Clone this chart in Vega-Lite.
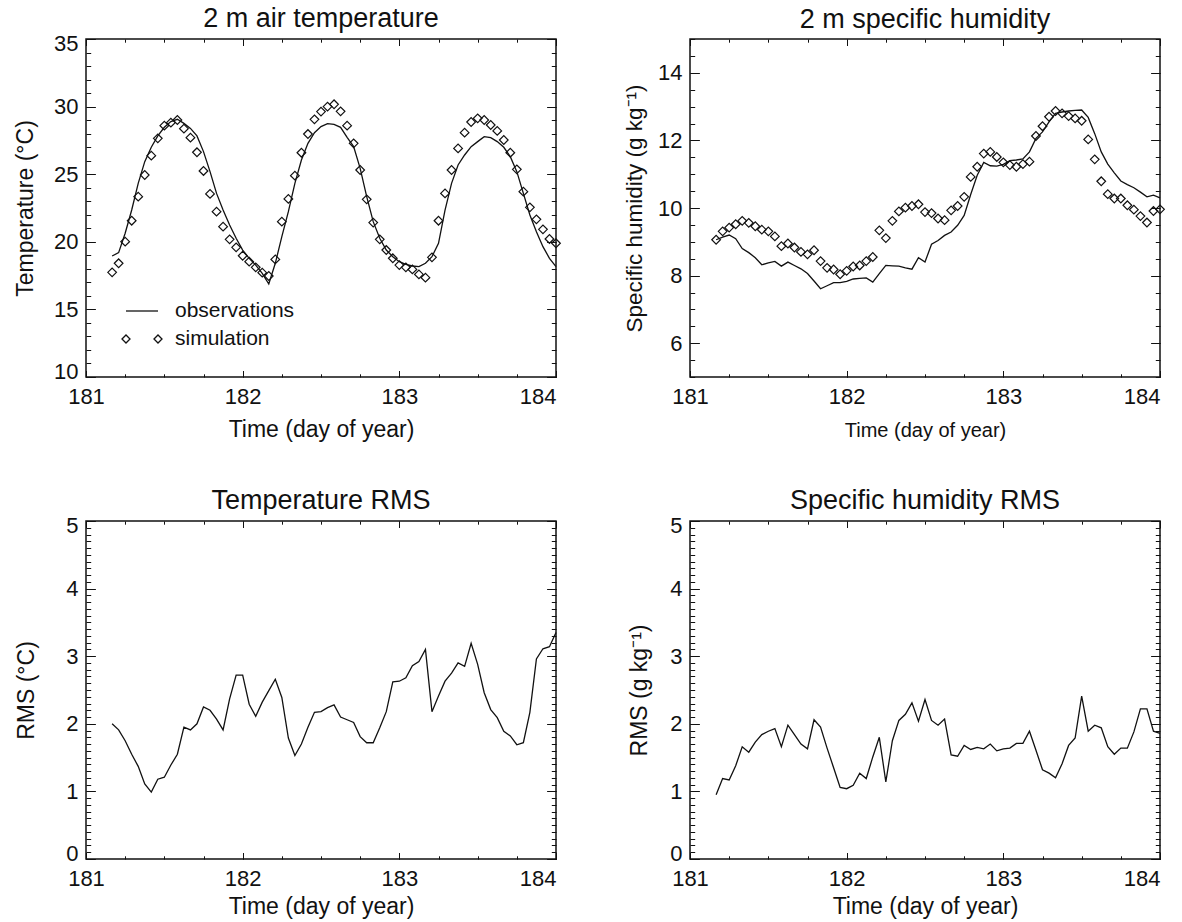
{
  "$schema": "https://vega.github.io/schema/vega-lite/v6.json",
  "background": "white",
  "padding": {"left": 13, "top": 4, "right": 5, "bottom": 5},
  "datasets": {
    "main": [
      {"day":181.1667,"tObs":18.95,"tSim":17.74,"qObs":9.06,"qSim":9.06,"tRms":2.00,"qRms":0.95},
      {"day":181.2083,"tObs":19.20,"tSim":18.41,"qObs":9.14,"qSim":9.31,"tRms":1.91,"qRms":1.19},
      {"day":181.25,"tObs":20.63,"tSim":20.01,"qObs":9.20,"qSim":9.42,"tRms":1.75,"qRms":1.17},
      {"day":181.2917,"tObs":22.35,"tSim":21.56,"qObs":9.09,"qSim":9.52,"tRms":1.55,"qRms":1.38},
      {"day":181.3333,"tObs":24.32,"tSim":23.34,"qObs":8.80,"qSim":9.62,"tRms":1.37,"qRms":1.66},
      {"day":181.375,"tObs":25.93,"tSim":24.94,"qObs":8.68,"qSim":9.56,"tRms":1.11,"qRms":1.58},
      {"day":181.4167,"tObs":26.99,"tSim":26.37,"qObs":8.53,"qSim":9.46,"tRms":0.99,"qRms":1.73},
      {"day":181.4583,"tObs":27.83,"tSim":27.65,"qObs":8.32,"qSim":9.36,"tRms":1.18,"qRms":1.84},
      {"day":181.5,"tObs":28.47,"tSim":28.59,"qObs":8.38,"qSim":9.31,"tRms":1.21,"qRms":1.89},
      {"day":181.5417,"tObs":28.89,"tSim":28.81,"qObs":8.42,"qSim":9.16,"tRms":1.39,"qRms":1.93},
      {"day":181.5833,"tObs":29.06,"tSim":29.01,"qObs":8.28,"qSim":8.87,"tRms":1.55,"qRms":1.66},
      {"day":181.625,"tObs":28.76,"tSim":28.37,"qObs":8.40,"qSim":8.95,"tRms":1.95,"qRms":1.98},
      {"day":181.6667,"tObs":28.39,"tSim":27.70,"qObs":8.30,"qSim":8.83,"tRms":1.91,"qRms":1.84},
      {"day":181.7083,"tObs":27.83,"tSim":26.62,"qObs":8.20,"qSim":8.70,"tRms":2.00,"qRms":1.70},
      {"day":181.75,"tObs":26.67,"tSim":25.24,"qObs":8.06,"qSim":8.63,"tRms":2.25,"qRms":1.63},
      {"day":181.7917,"tObs":25.19,"tSim":23.54,"qObs":7.84,"qSim":8.75,"tRms":2.20,"qRms":2.06},
      {"day":181.8333,"tObs":23.58,"tSim":22.23,"qObs":7.61,"qSim":8.43,"tRms":2.07,"qRms":1.95},
      {"day":181.875,"tObs":22.35,"tSim":21.12,"qObs":7.70,"qSim":8.23,"tRms":1.91,"qRms":1.64},
      {"day":181.9167,"tObs":21.24,"tSim":20.18,"qObs":7.79,"qSim":8.18,"tRms":2.37,"qRms":1.35},
      {"day":181.9583,"tObs":20.26,"tSim":19.59,"qObs":7.79,"qSim":8.04,"tRms":2.72,"qRms":1.06},
      {"day":182.0,"tObs":19.39,"tSim":18.97,"qObs":7.83,"qSim":8.14,"tRms":2.72,"qRms":1.04},
      {"day":182.0417,"tObs":18.78,"tSim":18.53,"qObs":7.90,"qSim":8.27,"tRms":2.29,"qRms":1.09},
      {"day":182.0833,"tObs":18.28,"tSim":18.11,"qObs":7.92,"qSim":8.30,"tRms":2.11,"qRms":1.27},
      {"day":182.125,"tObs":17.67,"tSim":17.72,"qObs":7.93,"qSim":8.43,"tRms":2.32,"qRms":1.19},
      {"day":182.1667,"tObs":16.88,"tSim":17.47,"qObs":7.81,"qSim":8.55,"tRms":2.49,"qRms":1.51},
      {"day":182.2083,"tObs":18.41,"tSim":18.70,"qObs":8.06,"qSim":9.34,"tRms":2.66,"qRms":1.80},
      {"day":182.25,"tObs":20.38,"tSim":21.49,"qObs":8.30,"qSim":9.11,"tRms":2.39,"qRms":1.14},
      {"day":182.2917,"tObs":22.23,"tSim":23.17,"qObs":8.29,"qSim":9.62,"tRms":1.79,"qRms":1.75},
      {"day":182.3333,"tObs":24.32,"tSim":24.89,"qObs":8.28,"qSim":9.90,"tRms":1.53,"qRms":2.05},
      {"day":182.375,"tObs":26.05,"tSim":26.59,"qObs":8.23,"qSim":10.01,"tRms":1.70,"qRms":2.14},
      {"day":182.4167,"tObs":27.28,"tSim":27.97,"qObs":8.19,"qSim":10.06,"tRms":1.95,"qRms":2.31},
      {"day":182.4583,"tObs":28.07,"tSim":29.06,"qObs":8.53,"qSim":10.11,"tRms":2.17,"qRms":2.04},
      {"day":182.5,"tObs":28.52,"tSim":29.63,"qObs":8.40,"qSim":9.88,"tRms":2.18,"qRms":2.36},
      {"day":182.5417,"tObs":28.74,"tSim":30.00,"qObs":8.93,"qSim":9.85,"tRms":2.24,"qRms":2.05},
      {"day":182.5833,"tObs":28.69,"tSim":30.17,"qObs":9.04,"qSim":9.69,"tRms":2.28,"qRms":1.98},
      {"day":182.625,"tObs":28.47,"tSim":29.65,"qObs":9.19,"qSim":9.64,"tRms":2.10,"qRms":2.07},
      {"day":182.6667,"tObs":27.73,"tSim":28.59,"qObs":9.29,"qSim":9.93,"tRms":2.06,"qRms":1.54},
      {"day":182.7083,"tObs":27.04,"tSim":27.28,"qObs":9.49,"qSim":10.06,"tRms":2.02,"qRms":1.52},
      {"day":182.75,"tObs":25.43,"tSim":25.31,"qObs":9.78,"qSim":10.33,"tRms":1.81,"qRms":1.68},
      {"day":182.7917,"tObs":23.34,"tSim":23.14,"qObs":10.40,"qSim":10.92,"tRms":1.72,"qRms":1.62},
      {"day":182.8333,"tObs":21.49,"tSim":21.42,"qObs":10.97,"qSim":11.22,"tRms":1.72,"qRms":1.65},
      {"day":182.875,"tObs":20.26,"tSim":20.18,"qObs":11.35,"qSim":11.61,"tRms":1.94,"qRms":1.63},
      {"day":182.9167,"tObs":19.39,"tSim":19.39,"qObs":11.25,"qSim":11.66,"tRms":2.18,"qRms":1.70},
      {"day":182.9583,"tObs":18.90,"tSim":18.78,"qObs":11.24,"qSim":11.51,"tRms":2.62,"qRms":1.60},
      {"day":183.0,"tObs":18.53,"tSim":18.28,"qObs":11.29,"qSim":11.35,"tRms":2.63,"qRms":1.63},
      {"day":183.0417,"tObs":18.33,"tSim":18.11,"qObs":11.40,"qSim":11.27,"tRms":2.68,"qRms":1.64},
      {"day":183.0833,"tObs":18.21,"tSim":17.96,"qObs":11.42,"qSim":11.22,"tRms":2.86,"qRms":1.71},
      {"day":183.125,"tObs":18.16,"tSim":17.59,"qObs":11.45,"qSim":11.30,"tRms":2.92,"qRms":1.71},
      {"day":183.1667,"tObs":18.41,"tSim":17.35,"qObs":11.66,"qSim":11.37,"tRms":3.10,"qRms":1.89},
      {"day":183.2083,"tObs":18.90,"tSim":18.85,"qObs":12.06,"qSim":12.13,"tRms":2.18,"qRms":1.61},
      {"day":183.25,"tObs":19.89,"tSim":21.56,"qObs":12.25,"qSim":12.42,"tRms":2.41,"qRms":1.32},
      {"day":183.2917,"tObs":22.35,"tSim":23.58,"qObs":12.55,"qSim":12.70,"tRms":2.63,"qRms":1.27},
      {"day":183.3333,"tObs":24.32,"tSim":25.31,"qObs":12.80,"qSim":12.87,"tRms":2.75,"qRms":1.20},
      {"day":183.375,"tObs":25.68,"tSim":26.91,"qObs":12.84,"qSim":12.80,"tRms":2.90,"qRms":1.41},
      {"day":183.4167,"tObs":26.42,"tSim":28.07,"qObs":12.87,"qSim":12.72,"tRms":2.85,"qRms":1.68},
      {"day":183.4583,"tObs":27.04,"tSim":28.86,"qObs":12.89,"qSim":12.65,"tRms":3.19,"qRms":1.79},
      {"day":183.5,"tObs":27.41,"tSim":29.13,"qObs":12.90,"qSim":12.58,"tRms":2.88,"qRms":2.41},
      {"day":183.5417,"tObs":27.78,"tSim":29.01,"qObs":12.68,"qSim":12.03,"tRms":2.46,"qRms":1.89},
      {"day":183.5833,"tObs":27.70,"tSim":28.64,"qObs":12.20,"qSim":11.44,"tRms":2.21,"qRms":1.98},
      {"day":183.625,"tObs":27.41,"tSim":28.20,"qObs":11.66,"qSim":10.79,"tRms":2.09,"qRms":1.94},
      {"day":183.6667,"tObs":26.99,"tSim":27.53,"qObs":11.30,"qSim":10.41,"tRms":1.89,"qRms":1.66},
      {"day":183.7083,"tObs":26.30,"tSim":26.59,"qObs":11.04,"qSim":10.28,"tRms":1.82,"qRms":1.55},
      {"day":183.75,"tObs":25.19,"tSim":25.36,"qObs":10.80,"qSim":10.28,"tRms":1.69,"qRms":1.64},
      {"day":183.7917,"tObs":23.58,"tSim":23.71,"qObs":10.69,"qSim":10.08,"tRms":1.72,"qRms":1.64},
      {"day":183.8333,"tObs":21.98,"tSim":22.55,"qObs":10.60,"qSim":9.95,"tRms":2.17,"qRms":1.88},
      {"day":183.875,"tObs":20.75,"tSim":21.66,"qObs":10.47,"qSim":9.76,"tRms":2.96,"qRms":2.22},
      {"day":183.9167,"tObs":19.64,"tSim":20.92,"qObs":10.33,"qSim":9.57,"tRms":3.11,"qRms":2.22},
      {"day":183.9583,"tObs":18.78,"tSim":20.21,"qObs":10.38,"qSim":9.91,"tRms":3.14,"qRms":1.89},
      {"day":184.0,"tObs":18.16,"tSim":19.89,"qObs":10.30,"qSim":9.96,"tRms":3.35,"qRms":1.86}
    ]
  },
  "data": {"name": "main"},
  "config": {
    "font": "Liberation Sans",
    "view": {"stroke": "#111", "strokeWidth": 1.5},
    "axis": {
      "grid": false, "domain": false, "labelFlush": false,
      "labelFont": "Liberation Sans", "labelFontSize": 22, "labelColor": "#111",
      "titleFont": "Liberation Sans", "titleFontSize": 23, "titleFontWeight": "normal", "titleColor": "#111",
      "tickColor": "#111", "tickWidth": 1
    },
    "title": {"font": "Liberation Sans", "fontSize": 27, "fontWeight": "normal", "color": "#111", "anchor": "middle", "frame": "group", "baseline": "alphabetic", "offset": -1},
    "legend": {
      "orient": "none", "legendX": 39, "legendY": 255, "padding": 0, "title": null,
      "symbolSize": 1024, "symbolStrokeWidth": 1.3, "symbolStrokeColor": "#111", "symbolFillColor": "transparent",
      "labelFont": "Liberation Sans", "labelFontSize": 21, "labelColor": "#111", "labelOffset": 16, "rowPadding": 1
    }
  },
  "columns": 2,
  "spacing": {"row": 144, "column": 134},
  "bounds": "flush",
  "concat": [
    {
      "title": "2 m air temperature",
      "width": 470, "height": 338,
      "layer": [
        {
          "mark": {"type": "line", "color": "#111", "strokeWidth": 1.3},
          "encoding": {
            "x": {"field": "day", "type": "quantitative", "scale": {"domain": [181, 184], "nice": false, "zero": false},
                  "axis": {"orient": "bottom", "values": [181, 182, 183, 184], "format": "d", "tickSize": -6.5, "labelPadding": 16,
                           "labelAlign": {"condition": {"test": "datum.value === 184", "value": "right"}, "value": "center"},
                           "title": "Time (day of year)", "titleFontSize": 23, "titlePadding": 11}},
            "y": {"field": "tObs", "type": "quantitative", "scale": {"domain": [10, 35], "nice": false, "zero": false},
                  "axis": {"orient": "left", "values": [10, 15, 20, 25, 30, 35], "tickSize": -9.4, "labelPadding": 17.4, "labelFlush": true, "labelFlushOffset": 6, "title": "Temperature (°C)", "titlePadding": 16}}
          }
        },
        {
          "mark": {"type": "point", "shape": "diamond", "filled": false, "color": "#111", "size": 75, "strokeWidth": 1.2, "opacity": 1},
          "encoding": {
            "x": {"field": "day", "type": "quantitative", "axis": {"orient": "top", "values": [181, 182, 183, 184], "tickSize": -6.5, "labels": false, "title": null}},
            "y": {"field": "tSim", "type": "quantitative", "axis": {"orient": "right", "values": [10, 15, 20, 25, 30, 35], "tickSize": -9.4, "labels": false, "title": null}}
          }
        },
        {
          "mark": {"type": "point", "filled": false, "color": "#111", "opacity": 0},
          "encoding": {
            "x": {"field": "day", "type": "quantitative", "axis": {"orient": "bottom", "values": [181, 181.25, 181.5, 181.75, 182, 182.25, 182.5, 182.75, 183, 183.25, 183.5, 183.75, 184], "tickSize": -3.2, "labels": false, "title": null}},
            "y": {"field": "tObs", "type": "quantitative", "axis": {"orient": "left", "values": [10,11,12,13,14,15,16,17,18,19,20,21,22,23,24,25,26,27,28,29,30,31,32,33,34,35], "tickSize": -4.7, "labels": false, "title": null}},
            "shape": {"datum": "observations", "type": "nominal",
                      "scale": {"domain": ["observations", "simulation"], "range": ["M-1,0H1", "M-1.25,0L-1,-0.25L-0.75,0L-1,0.25ZM0.75,0L1,-0.25L1.25,0L1,0.25Z"]},
                      "legend": {"title": null}}
          }
        },
        {
          "mark": {"type": "point", "filled": false, "color": "#111", "opacity": 0},
          "encoding": {
            "x": {"field": "day", "type": "quantitative", "axis": {"orient": "top", "values": [181, 181.25, 181.5, 181.75, 182, 182.25, 182.5, 182.75, 183, 183.25, 183.5, 183.75, 184], "tickSize": -3.2, "labels": false, "title": null}},
            "y": {"field": "tSim", "type": "quantitative", "axis": {"orient": "right", "values": [10,11,12,13,14,15,16,17,18,19,20,21,22,23,24,25,26,27,28,29,30,31,32,33,34,35], "tickSize": -4.7, "labels": false, "title": null}},
            "shape": {"datum": "simulation", "type": "nominal"}
          }
        }
      ],
      "resolve": {"axis": {"x": "independent", "y": "independent"}}
    },
    {
      "title": {"text": "2 m specific humidity", "offset": 5},
      "width": 470, "height": 338,
      "layer": [
        {
          "mark": {"type": "line", "color": "#111", "strokeWidth": 1.3},
          "encoding": {
            "x": {"field": "day", "type": "quantitative", "scale": {"domain": [181, 184], "nice": false, "zero": false},
                  "axis": {"orient": "bottom", "values": [181, 182, 183, 184], "format": "d", "tickSize": -6.5, "labelPadding": 16,
                           "labelAlign": {"condition": {"test": "datum.value === 184", "value": "right"}, "value": "center"},
                           "title": "Time (day of year)", "titleFontSize": 20, "titlePadding": 13}},
            "y": {"field": "qObs", "type": "quantitative", "scale": {"domain": [5, 15], "nice": false, "zero": false},
                  "axis": {"orient": "left", "values": [6, 8, 10, 12, 14], "tickSize": -9.4, "labelPadding": 17.4, "title": "Specific humidity (g kg⁻¹)", "titleFontSize": 22.5, "titlePadding": 11}}
          }
        },
        {
          "mark": {"type": "point", "shape": "diamond", "filled": false, "color": "#111", "size": 75, "strokeWidth": 1.2, "opacity": 1},
          "encoding": {
            "x": {"field": "day", "type": "quantitative", "axis": {"orient": "top", "values": [181, 182, 183, 184], "tickSize": -6.5, "labels": false, "title": null}},
            "y": {"field": "qSim", "type": "quantitative", "axis": {"orient": "right", "values": [6, 8, 10, 12, 14], "tickSize": -9.4, "labels": false, "title": null}}
          }
        },
        {
          "mark": {"type": "point", "filled": false, "color": "#111", "opacity": 0},
          "encoding": {
            "x": {"field": "day", "type": "quantitative", "axis": {"orient": "bottom", "values": [181, 181.25, 181.5, 181.75, 182, 182.25, 182.5, 182.75, 183, 183.25, 183.5, 183.75, 184], "tickSize": -3.2, "labels": false, "title": null}},
            "y": {"field": "qObs", "type": "quantitative", "axis": {"orient": "left", "values": [5,5.5,6,6.5,7,7.5,8,8.5,9,9.5,10,10.5,11,11.5,12,12.5,13,13.5,14,14.5,15], "tickSize": -4.7, "labels": false, "title": null}},
            "shape": {"datum": "observations", "type": "nominal",
                      "scale": {"domain": ["observations", "simulation"], "range": ["M-1,0H1", "M-1.25,0L-1,-0.25L-0.75,0L-1,0.25ZM0.75,0L1,-0.25L1.25,0L1,0.25Z"]},
                      "legend": {"title": null}}
          }
        },
        {
          "mark": {"type": "point", "filled": false, "color": "#111", "opacity": 0},
          "encoding": {
            "x": {"field": "day", "type": "quantitative", "axis": {"orient": "top", "values": [181, 181.25, 181.5, 181.75, 182, 182.25, 182.5, 182.75, 183, 183.25, 183.5, 183.75, 184], "tickSize": -3.2, "labels": false, "title": null}},
            "y": {"field": "qSim", "type": "quantitative", "axis": {"orient": "right", "values": [5,5.5,6,6.5,7,7.5,8,8.5,9,9.5,10,10.5,11,11.5,12,12.5,13,13.5,14,14.5,15], "tickSize": -4.7, "labels": false, "title": null}},
            "shape": {"datum": "simulation", "type": "nominal"}
          }
        }
      ],
      "resolve": {"axis": {"x": "independent", "y": "independent"}}
    },
    {
      "title": "Temperature RMS",
      "width": 470, "height": 338,
      "layer": [
        {
          "mark": {"type": "line", "color": "#111", "strokeWidth": 1.3},
          "encoding": {
            "x": {"field": "day", "type": "quantitative", "scale": {"domain": [181, 184], "nice": false, "zero": false},
                  "axis": {"orient": "bottom", "values": [181, 182, 183, 184], "format": "d", "tickSize": -6.5, "labelPadding": 16,
                           "labelAlign": {"condition": {"test": "datum.value === 184", "value": "right"}, "value": "center"},
                           "title": "Time (day of year)", "titleFontSize": 23, "titlePadding": 6}},
            "y": {"field": "tRms", "type": "quantitative", "scale": {"domain": [0, 5], "nice": false, "zero": false},
                  "axis": {"orient": "left", "values": [0, 1, 2, 3, 4, 5], "tickSize": -9.4, "labelPadding": 17.4, "labelFlush": true, "labelFlushOffset": 6, "title": "RMS (°C)", "titlePadding": 27}}
          }
        },
        {
          "mark": {"type": "point", "filled": false, "color": "#111", "opacity": 0},
          "encoding": {
            "x": {"field": "day", "type": "quantitative", "axis": {"orient": "top", "values": [181, 182, 183, 184], "tickSize": -6.5, "labels": false, "title": null}},
            "y": {"field": "tRms", "type": "quantitative", "axis": {"orient": "right", "values": [0, 1, 2, 3, 4, 5], "tickSize": -9.4, "labels": false, "title": null}}
          }
        },
        {
          "mark": {"type": "point", "filled": false, "color": "#111", "opacity": 0},
          "encoding": {
            "x": {"field": "day", "type": "quantitative", "axis": {"orient": "bottom", "values": [181, 181.25, 181.5, 181.75, 182, 182.25, 182.5, 182.75, 183, 183.25, 183.5, 183.75, 184], "tickSize": -3.2, "labels": false, "title": null}},
            "y": {"field": "tRms", "type": "quantitative", "axis": {"orient": "left", "values": [0,0.1,0.2,0.3,0.4,0.5,0.6,0.7,0.8,0.9,1,1.1,1.2,1.3,1.4,1.5,1.6,1.7,1.8,1.9,2,2.1,2.2,2.3,2.4,2.5,2.6,2.7,2.8,2.9,3,3.1,3.2,3.3,3.4,3.5,3.6,3.7,3.8,3.9,4,4.1,4.2,4.3,4.4,4.5,4.6,4.7,4.8,4.9,5], "tickSize": -4.7, "labels": false, "title": null}}
          }
        },
        {
          "mark": {"type": "point", "filled": false, "color": "#111", "opacity": 0},
          "encoding": {
            "x": {"field": "day", "type": "quantitative", "axis": {"orient": "top", "values": [181, 181.25, 181.5, 181.75, 182, 182.25, 182.5, 182.75, 183, 183.25, 183.5, 183.75, 184], "tickSize": -3.2, "labels": false, "title": null}},
            "y": {"field": "tRms", "type": "quantitative", "axis": {"orient": "right", "values": [0,0.1,0.2,0.3,0.4,0.5,0.6,0.7,0.8,0.9,1,1.1,1.2,1.3,1.4,1.5,1.6,1.7,1.8,1.9,2,2.1,2.2,2.3,2.4,2.5,2.6,2.7,2.8,2.9,3,3.1,3.2,3.3,3.4,3.5,3.6,3.7,3.8,3.9,4,4.1,4.2,4.3,4.4,4.5,4.6,4.7,4.8,4.9,5], "tickSize": -4.7, "labels": false, "title": null}}
          }
        }
      ],
      "resolve": {"axis": {"x": "independent", "y": "independent"}}
    },
    {
      "title": "Specific humidity RMS",
      "width": 470, "height": 338,
      "layer": [
        {
          "mark": {"type": "line", "color": "#111", "strokeWidth": 1.3},
          "encoding": {
            "x": {"field": "day", "type": "quantitative", "scale": {"domain": [181, 184], "nice": false, "zero": false},
                  "axis": {"orient": "bottom", "values": [181, 182, 183, 184], "format": "d", "tickSize": -6.5, "labelPadding": 16,
                           "labelAlign": {"condition": {"test": "datum.value === 184", "value": "right"}, "value": "center"},
                           "title": "Time (day of year)", "titleFontSize": 23, "titlePadding": 6}},
            "y": {"field": "qRms", "type": "quantitative", "scale": {"domain": [0, 5], "nice": false, "zero": false},
                  "axis": {"orient": "left", "values": [0, 1, 2, 3, 4, 5], "tickSize": -9.4, "labelPadding": 17.4, "labelFlush": true, "labelFlushOffset": 6, "title": "RMS (g kg⁻¹)", "titlePadding": 18}}
          }
        },
        {
          "mark": {"type": "point", "filled": false, "color": "#111", "opacity": 0},
          "encoding": {
            "x": {"field": "day", "type": "quantitative", "axis": {"orient": "top", "values": [181, 182, 183, 184], "tickSize": -6.5, "labels": false, "title": null}},
            "y": {"field": "qRms", "type": "quantitative", "axis": {"orient": "right", "values": [0, 1, 2, 3, 4, 5], "tickSize": -9.4, "labels": false, "title": null}}
          }
        },
        {
          "mark": {"type": "point", "filled": false, "color": "#111", "opacity": 0},
          "encoding": {
            "x": {"field": "day", "type": "quantitative", "axis": {"orient": "bottom", "values": [181, 181.25, 181.5, 181.75, 182, 182.25, 182.5, 182.75, 183, 183.25, 183.5, 183.75, 184], "tickSize": -3.2, "labels": false, "title": null}},
            "y": {"field": "qRms", "type": "quantitative", "axis": {"orient": "left", "values": [0,0.1,0.2,0.3,0.4,0.5,0.6,0.7,0.8,0.9,1,1.1,1.2,1.3,1.4,1.5,1.6,1.7,1.8,1.9,2,2.1,2.2,2.3,2.4,2.5,2.6,2.7,2.8,2.9,3,3.1,3.2,3.3,3.4,3.5,3.6,3.7,3.8,3.9,4,4.1,4.2,4.3,4.4,4.5,4.6,4.7,4.8,4.9,5], "tickSize": -4.7, "labels": false, "title": null}}
          }
        },
        {
          "mark": {"type": "point", "filled": false, "color": "#111", "opacity": 0},
          "encoding": {
            "x": {"field": "day", "type": "quantitative", "axis": {"orient": "top", "values": [181, 181.25, 181.5, 181.75, 182, 182.25, 182.5, 182.75, 183, 183.25, 183.5, 183.75, 184], "tickSize": -3.2, "labels": false, "title": null}},
            "y": {"field": "qRms", "type": "quantitative", "axis": {"orient": "right", "values": [0,0.1,0.2,0.3,0.4,0.5,0.6,0.7,0.8,0.9,1,1.1,1.2,1.3,1.4,1.5,1.6,1.7,1.8,1.9,2,2.1,2.2,2.3,2.4,2.5,2.6,2.7,2.8,2.9,3,3.1,3.2,3.3,3.4,3.5,3.6,3.7,3.8,3.9,4,4.1,4.2,4.3,4.4,4.5,4.6,4.7,4.8,4.9,5], "tickSize": -4.7, "labels": false, "title": null}}
          }
        }
      ],
      "resolve": {"axis": {"x": "independent", "y": "independent"}}
    }
  ]
}
